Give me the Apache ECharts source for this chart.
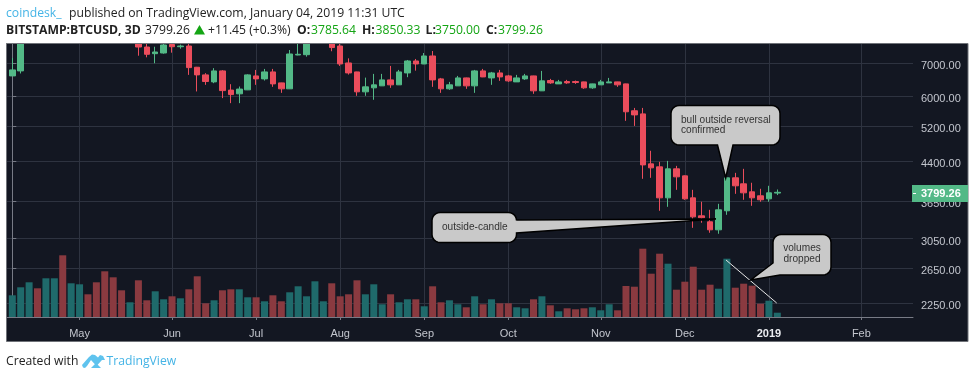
<!DOCTYPE html>
<html><head><meta charset="utf-8">
<style>html,body{margin:0;padding:0;background:#fff}#c{width:975px;height:379px}</style>
<script src="https://cdn.jsdelivr.net/npm/echarts@6/dist/echarts.min.js"></script>
</head><body><div id="c"></div>
<script>
const opens=[6593,6751,7930,8250,7950,8800,9250,8800,9200,9600,9300,9100,8700,8400,8250,8450,7560,7325,7349,7650,7570,7596,6870,6625,6409,6751,6165,6057,6172,6593,6501,6719,6379,6202,7280,7290,7750,8150,8200,7596,7010,6719,6114,6231,6290,6470,6320,6687,7077,6977,7246,6501,6202,6290,6531,6290,6751,6531,6687,6593,6409,6501,6593,6143,6450,6349,6420,6420,6409,6231,6320,6379,6409,6349,5590,5508,4347,4286,3701,4246,4107,3701,3399,3304,3181,3481,4069,3955,3808,3737,3684,3785.64];
const closes=[6783,7930,8250,7950,8800,9250,8800,9200,9600,9300,9100,8700,8400,8250,8450,7560,7304,7384,7632,7570,7596,6857,6625,6420,6751,6150,6035,6195,6625,6501,6719,6349,6202,7314,7304,7669,8150,8250,7540,6977,6687,6114,6260,6320,6470,6320,6719,7077,6977,7246,6470,6202,6320,6531,6290,6751,6562,6687,6562,6440,6531,6593,6143,6440,6379,6409,6379,6390,6231,6349,6409,6409,6320,5563,5482,4326,4266,3701,4246,4088,3684,3383,3367,3181,3497,4069,3918,3790,3701,3667,3790,3799.26];
const lows=[6590,6670,7800,7800,7870,8700,8650,8730,9100,9200,9000,8600,8300,8150,8150,7255,7200,7000,7325,7360,7500,6625,6125,6320,6370,5935,5795,5795,6165,6320,6450,6260,6085,6195,7270,7222,7720,8050,7410,6912,6635,6000,6000,5888,6285,6231,6315,6553,6760,6970,6260,6085,6172,6285,6202,6085,6555,6320,6440,6409,6405,6470,6057,6138,6349,6345,6349,6349,6202,6202,6315,6375,6260,5329,5203,4050,4069,3481,3547,3844,3667,3211,3289,3137,3122,3415,3772,3667,3564,3633,3633,3750];
const highs=[7178,8100,8300,8420,8950,9300,9750,9300,9700,9800,9400,9200,8800,8500,8550,8560,7700,7570,7669,7710,7645,7669,6880,6680,6840,6775,6340,6270,6645,6783,6815,6815,6385,7454,7760,7800,8250,8320,8280,7700,7165,6725,6540,6656,6656,6912,6783,7110,7144,7349,7419,6531,6409,6593,6540,6783,6815,6719,6783,6625,6625,6656,6600,6751,6501,6470,6470,6450,6415,6355,6470,6531,6415,6355,5666,5666,4625,4389,4409,4306,4115,3844,3633,3497,3598,4075,4166,4246,3975,3863,3918,3850.33];
const volumes=[21.7,29.7,34.7,28.7,38.7,38.7,61.7,33.7,32.7,22.7,34.7,45.7,39.7,26.7,14.7,36.7,16.7,25.7,17.7,20.7,18.7,27.7,40.7,13.7,16.7,26.7,27.7,27.7,19.7,19.7,15.7,21.7,15.7,24.7,30.7,20.7,35.7,15.7,33.7,20.7,22.7,36.7,22.7,32.7,12.7,22.7,14.7,17.7,17.7,10.7,30.7,14.7,16.7,12.7,9.7,20.7,12.7,17.7,13.7,13.7,9.7,8.7,17.7,20.7,11.7,5.7,8.7,7.7,8.7,9.7,6.7,12.7,6.7,31,30.3,68.3,43.3,63.3,53.3,27.3,35.3,50.3,27.3,32.3,28.3,58.3,29.3,33.3,31.3,13.3,16.3,4.3];
const xTickIndex=[8,19,29,39,49,59,70,80,90,101];
const xTickLabels=['May','Jun','Jul','Aug','Sep','Oct','Nov','Dec','2019','Feb'];
const yTicks=[2250,2650,3050,3650,4400,5200,6000,7000];
const lastPrice='3799.26';

const UP='#53b987',DOWN='#eb4d5c',VUP='#1f6a6b',VDOWN='#8a3a40';
const BG='#131722',GRID='#2e3340',AXIS='#787b86',LBL='#c3c6ce';
const FONT='"Open Sans"',AF='"Liberation Sans"',FS='12.2px ';
const candle=opens.map((o,i)=>[i,o,closes[i],lows[i],highs[i]]);
const vols=volumes.map((v,i)=>({value:[i,v],itemStyle:{color:closes[i]>=opens[i]?VUP:VDOWN}}));

function txt(x,y,t,o,z){return {type:'text',x:x,y:y,z:z||20,style:Object.assign({text:t,fill:'#222',font:FS+FONT,textVerticalAlign:'middle'},o||{})};}
function callout(x0,y0,x1,y1,r,side,ptr){
 const pts=[];
 const arc=(cx,cy,a0)=>{for(let k=0;k<=6;k++){const a=(a0+k*15)*Math.PI/180;pts.push([cx+r*Math.cos(a),cy+r*Math.sin(a)]);}};
 arc(x0+r,y0+r,180);
 arc(x1-r,y0+r,270); if(side==='right')pts.push(...ptr);
 arc(x1-r,y1-r,0);   if(side==='bottom')pts.push(...ptr);
 if(side==='bottomleft')pts.push(...ptr); else arc(x0+r,y1-r,90);
 return {type:'polygon',z:30,shape:{points:pts},style:{fill:'#c9c9c9',stroke:'#000',lineWidth:1.5}};
}
const BOLD='bold '+FS+FONT, NOTE='10.1px '+AF, L1=14, L2=30.5, L3=362;
const graphic=[
 {type:'rect',z:-10,shape:{x:6.5,y:43.5,width:961.5,height:298},style:{fill:BG,stroke:'#6f7278',lineWidth:1}},
 {type:'rect',z:10,shape:{x:0,y:0,width:975,height:43},style:{fill:'#fff'}},
 {type:'line',z:11,shape:{x1:6.5,y1:43.5,x2:968,y2:43.5},style:{stroke:'#6f7278',lineWidth:1}},
 txt(6,L1,'coindesk_',{fill:'#45b4e6'}),
 txt(69,L1,'published on TradingView.com, January 04, 2019 11:31 UTC'),
 txt(6,L2,'BITSTAMP:BTCUSD, 3D',{font:BOLD}),
 txt(145,L2,'3799.26'),
 {type:'polygon',z:20,shape:{points:[[194,34.5],[205,34.5],[199.5,25]]},style:{fill:'#14a514'}},
 txt(208,L2,'+11.45 (+0.3%)'),
 txt(297,L2,'O:',{font:BOLD}),txt(311,L2,'3785.64',{fill:'#14a514'}),
 txt(362,L2,'H:',{font:BOLD}),txt(375.5,L2,'3850.33',{fill:'#14a514'}),
 txt(425.5,L2,'L:',{font:BOLD}),txt(435,L2,'3750.00',{fill:'#14a514'}),
 txt(486,L2,'C:',{font:BOLD}),txt(498,L2,'3799.26',{fill:'#14a514'}),
 txt(6,L3,'Created with'),
 {type:'polygon',z:20,shape:{points:[[82,365],[89,357],[92,354.5],[95,355],[98,357.5],[100,355],[103,356],[105,360],[102,360],[96.5,366],[91,360],[87,366],[85,368],[83,367.5]]},style:{fill:'#5fc3ee'}},
 {type:'polygon',z:20,shape:{points:[[91,368],[96,363],[101,368]]},style:{fill:'#5fc3ee'}},
 txt(106.5,L3,'TradingView',{fill:'#45b4e6'}),
 {type:'rect',z:25,shape:{x:912,y:185,width:56,height:17},style:{fill:UP}},
 {type:'rect',z:26,shape:{x:913,y:193,width:3,height:1},style:{fill:'#fff'}},
 txt(921,193.5,lastPrice,{fill:'#fff',font:'bold 11px '+AF},26),
 callout(671,105.5,780,145,8,'bottom',[[733,145],[725.7,178],[717.5,145]]),
 txt(681,120,'bull outside reversal',{fill:'#333',font:NOTE},31),
 txt(681,130.5,'confirmed',{fill:'#333',font:NOTE},31),
 callout(432,212.5,516.5,242.5,8,'right',[[516.5,220],[716,219],[516.5,233]]),
 txt(442,227,'outside-candle',{fill:'#333',font:NOTE},31),
 {type:'line',z:29,shape:{x1:726,y1:260,x2:776.7,y2:303},style:{stroke:'#e6e6e6',lineWidth:1}},
 callout(773,234.5,831,275,8,'bottomleft',[[780,275],[750.7,280],[773,263]]),
 txt(802,248.5,'volumes',{fill:'#333',font:NOTE,textAlign:'center'},31),
 txt(802,259,'dropped',{fill:'#333',font:NOTE,textAlign:'center'},31)
];

const chart=echarts.init(document.getElementById('c'),null,{renderer:'canvas'});
chart.setOption({
 animation:false,backgroundColor:'#fff',
 grid:{left:7,right:62,top:43,bottom:62},
 xAxis:{type:'value',min:-0.63,max:107.14,
  axisLine:{show:true,onZero:false,lineStyle:{color:AXIS}},
  axisTick:{show:true,length:3,customValues:xTickIndex,lineStyle:{color:AXIS}},
  axisLabel:{customValues:xTickIndex,margin:11,color:LBL,fontFamily:AF,fontSize:11,hideOverlap:false,
   formatter:v=>{const s=xTickLabels[xTickIndex.indexOf(v)];return s==='2019'?'{b|'+s+'}':s;},
   rich:{b:{fontWeight:'bold',color:'#eceef2',fontFamily:AF,fontSize:11}}},
  splitLine:{show:true,lineStyle:{color:GRID,width:1}}},
 yAxis:[{type:'log',position:'right',min:2105,max:7705,
   axisLine:{show:true,lineStyle:{color:AXIS}},
   axisTick:{show:true,length:4,customValues:yTicks,lineStyle:{color:AXIS}},
   axisLabel:{customValues:yTicks,margin:8,color:LBL,fontFamily:AF,fontSize:11,verticalAlign:'top',lineHeight:6,formatter:v=>Number(v).toFixed(2)},
   splitLine:{show:true,lineStyle:{color:GRID,width:1}}},
  {type:'value',min:0,max:274,show:false}],
 series:[
  {type:'bar',name:'Volume',xAxisIndex:0,yAxisIndex:1,barWidth:7,data:vols,z:3,silent:true},
  {type:'candlestick',name:'BTCUSD',xAxisIndex:0,yAxisIndex:0,barWidth:6,clip:true,z:4,
   encode:{x:0,y:[1,2,3,4]},data:candle,
   itemStyle:{color:UP,color0:DOWN,borderColor:UP,borderColor0:DOWN,borderWidth:1}}
 ],
 graphic:graphic
});
</script></body></html>
